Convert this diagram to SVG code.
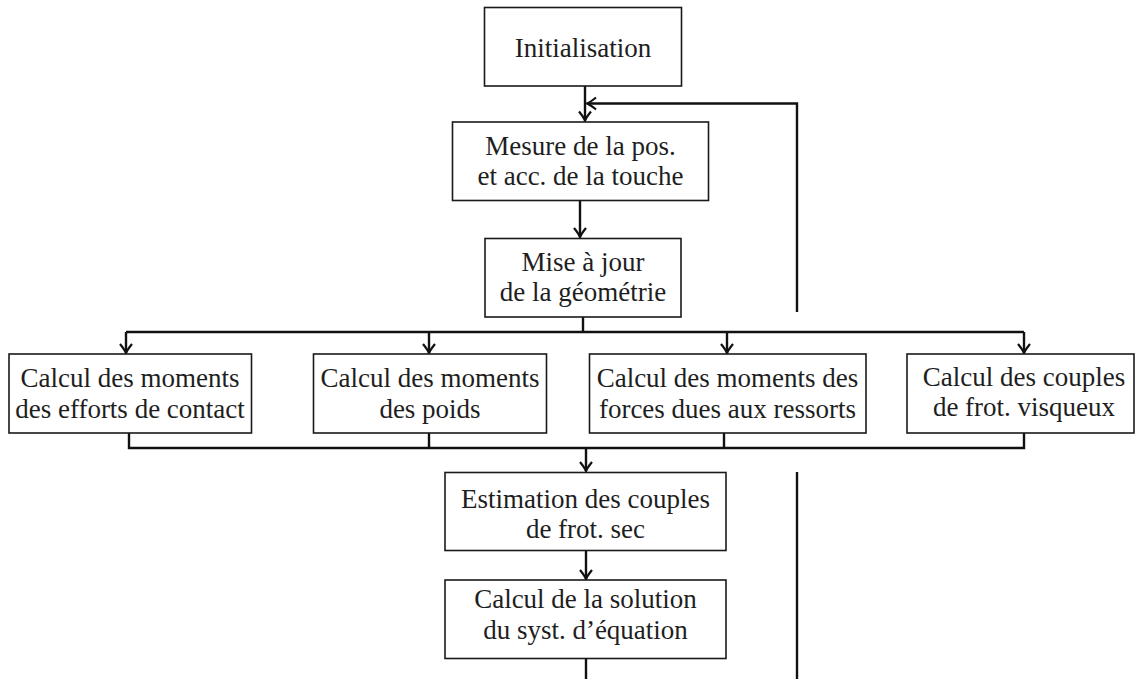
<svg xmlns="http://www.w3.org/2000/svg" width="1135" height="679" viewBox="0 0 1135 679">
<style>
.box{fill:#fff;stroke:#1a1a1a;stroke-width:1.6}
.t{font-family:"Liberation Serif","Times New Roman",serif;font-size:27px;fill:#1e1e1e;text-anchor:middle}
.c{fill:none;stroke:#111;stroke-width:2.4}
</style>
<defs>
<marker id="arr" viewBox="-12 -8 14 16" refX="0" refY="0" markerWidth="14" markerHeight="16" markerUnits="userSpaceOnUse" orient="auto">
<path d="M-9,-6 Q-3.5,-1.5 0,0 Q-3.5,1.5 -9,6" fill="none" stroke="#111" stroke-width="2.2"/>
</marker>
</defs>
<rect width="1135" height="679" fill="#fff"/>
<g id="connectors">
<path class="c" d="M585,86 V120.5" marker-end="url(#arr)"/>
<path class="c" d="M797,312 V103.5 H587" marker-end="url(#arr)"/>
<path class="c" d="M580,200 V237" marker-end="url(#arr)"/>
<path class="c" d="M583,317 V332"/>
<path class="c" d="M126,332 H1024"/>
<path class="c" d="M126,332 V353" marker-end="url(#arr)"/>
<path class="c" d="M429,332 V353" marker-end="url(#arr)"/>
<path class="c" d="M727,332 V353" marker-end="url(#arr)"/>
<path class="c" d="M1024,332 V353" marker-end="url(#arr)"/>
<path class="c" d="M129,433 V448 H1024 V433"/>
<path class="c" d="M429,433 V448"/>
<path class="c" d="M724,433 V448"/>
<path class="c" d="M586,448 V471" marker-end="url(#arr)"/>
<path class="c" d="M586,550 V579" marker-end="url(#arr)"/>
<path class="c" d="M586,659 V679"/>
<path class="c" d="M797,472 V679"/>
</g>
<g id="init">
<rect class="box" x="484.5" y="7.5" width="197" height="78.5"/>
<text class="t" x="583" y="57">Initialisation</text>
</g>
<g id="mesure">
<rect class="box" x="452.5" y="122" width="256" height="78.5"/>
<text class="t" x="580.5" y="155">Mesure de la pos.</text>
<text class="t" x="580.5" y="185">et acc. de la touche</text>
</g>
<g id="mise">
<rect class="box" x="485" y="238.5" width="196" height="78.5"/>
<text class="t" x="583" y="271">Mise à jour</text>
<text class="t" x="583" y="301">de la géométrie</text>
</g>
<g id="contact">
<rect class="box" x="9" y="354" width="242.5" height="79"/>
<text class="t" x="130" y="387">Calcul des moments</text>
<text class="t" x="130" y="418">des efforts de contact</text>
</g>
<g id="poids">
<rect class="box" x="313.5" y="354" width="233" height="79"/>
<text class="t" x="430" y="387">Calcul des moments</text>
<text class="t" x="430" y="418">des poids</text>
</g>
<g id="ressorts">
<rect class="box" x="589.5" y="354" width="276.5" height="79"/>
<text class="t" x="727.5" y="387">Calcul des moments des</text>
<text class="t" x="727.5" y="418">forces dues aux ressorts</text>
</g>
<g id="visqueux">
<rect class="box" x="907" y="354" width="227" height="79"/>
<text class="t" x="1024" y="386">Calcul des couples</text>
<text class="t" x="1024" y="416">de frot. visqueux</text>
</g>
<g id="sec">
<rect class="box" x="445" y="472.5" width="281" height="78"/>
<text class="t" x="585.5" y="508">Estimation des couples</text>
<text class="t" x="585.5" y="538">de frot. sec</text>
</g>
<g id="solution">
<rect class="box" x="445" y="580" width="281" height="78.5"/>
<text class="t" x="585.5" y="608">Calcul de la solution</text>
<text class="t" x="585.5" y="639">du syst. d’équation</text>
</g>
</svg>
